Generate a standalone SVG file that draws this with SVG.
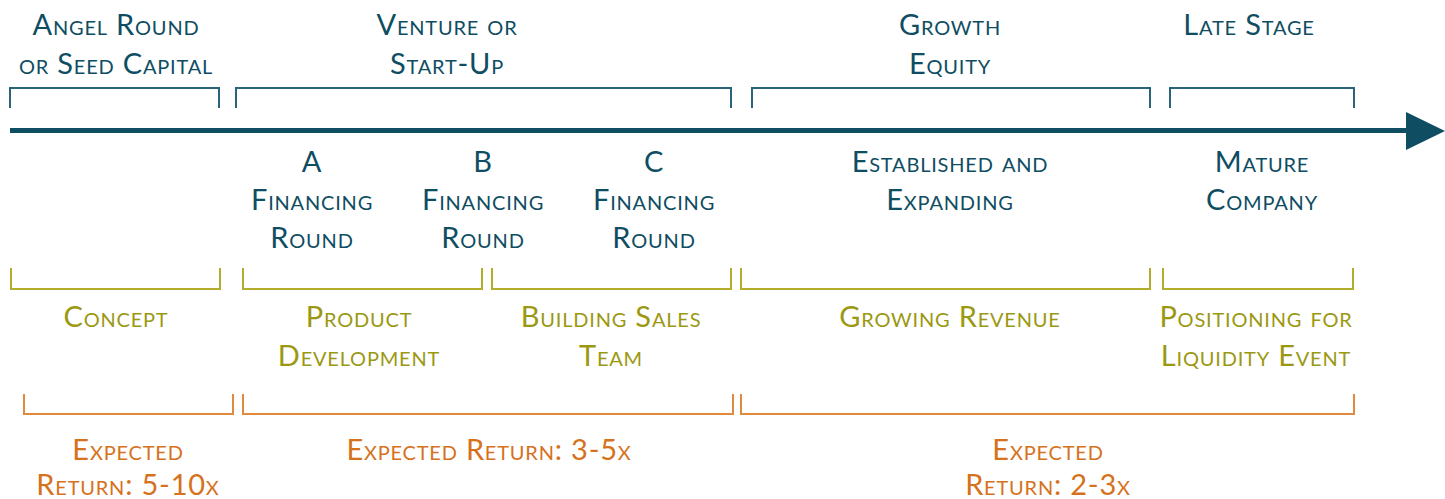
<svg xmlns="http://www.w3.org/2000/svg" width="1445" height="499" viewBox="0 0 1445 499">
  <style>
    text { font-family: Lato, "Liberation Sans", sans-serif; font-size: 29px; letter-spacing: 0.8px; font-variant: small-caps; text-anchor: middle; }
    .stage { fill: #0e4d62; }
    .phase { fill: #9b9812; }
    .ret { fill: #d6711c; }
    .br { fill: none; stroke-width: 2; }
    .br-stage { stroke: #2a6478; }
    .br-phase { stroke: #b3ad2c; }
    .br-ret { stroke: #e08a3e; }
  </style>

  <!-- timeline axis -->
  <g id="connectors">
    <line x1="10" y1="130.5" x2="1410" y2="130.5" stroke="#0e4d62" stroke-width="5"/>
    <polygon points="1406,112 1445,131 1406,150" fill="#0e4d62"/>
  </g>

  <!-- funding stages (above axis) -->
  <g id="stage-angel">
    <text class="stage" x="116" y="35">Angel Round</text>
    <text class="stage" x="116" y="74">or Seed Capital</text>
    <path class="br br-stage" d="M10,108 V88 H219 V108"/>
  </g>
  <g id="stage-venture">
    <text class="stage" x="447" y="35">Venture or</text>
    <text class="stage" x="447" y="74">Start-Up</text>
    <path class="br br-stage" d="M236,108 V88 H731 V108"/>
  </g>
  <g id="stage-growth">
    <text class="stage" x="950" y="35">Growth</text>
    <text class="stage" x="950" y="74">Equity</text>
    <path class="br br-stage" d="M752,108 V88 H1150 V108"/>
  </g>
  <g id="stage-late">
    <text class="stage" x="1249" y="35">Late Stage</text>
    <path class="br br-stage" d="M1170,108 V88 H1354 V108"/>
  </g>

  <!-- financing rounds (below axis) -->
  <g id="round-a">
    <text class="stage" x="312" y="172">A</text>
    <text class="stage" x="312" y="210">Financing</text>
    <text class="stage" x="312" y="248">Round</text>
  </g>
  <g id="round-b">
    <text class="stage" x="483" y="172">B</text>
    <text class="stage" x="483" y="210">Financing</text>
    <text class="stage" x="483" y="248">Round</text>
  </g>
  <g id="round-c">
    <text class="stage" x="654" y="172">C</text>
    <text class="stage" x="654" y="210">Financing</text>
    <text class="stage" x="654" y="248">Round</text>
  </g>
  <g id="round-established">
    <text class="stage" x="950" y="172">Established and</text>
    <text class="stage" x="950" y="210">Expanding</text>
  </g>
  <g id="round-mature">
    <text class="stage" x="1262" y="172">Mature</text>
    <text class="stage" x="1262" y="210">Company</text>
  </g>

  <!-- company phases -->
  <g id="phase-concept">
    <path class="br br-phase" d="M11,268 V289 H220 V268"/>
    <text class="phase" x="116" y="327">Concept</text>
  </g>
  <g id="phase-product">
    <path class="br br-phase" d="M243,268 V289 H482 V268"/>
    <text class="phase" x="359" y="327">Product</text>
    <text class="phase" x="359" y="366">Development</text>
  </g>
  <g id="phase-sales">
    <path class="br br-phase" d="M492,268 V289 H731 V268"/>
    <text class="phase" x="611" y="327">Building Sales</text>
    <text class="phase" x="611" y="366">Team</text>
  </g>
  <g id="phase-revenue">
    <path class="br br-phase" d="M741,268 V289 H1150 V268"/>
    <text class="phase" x="950" y="327">Growing Revenue</text>
  </g>
  <g id="phase-liquidity">
    <path class="br br-phase" d="M1163,268 V289 H1353 V268"/>
    <text class="phase" x="1256" y="327">Positioning for</text>
    <text class="phase" x="1256" y="366">Liquidity Event</text>
  </g>

  <!-- expected returns -->
  <g id="return-seed">
    <path class="br br-ret" d="M24,394 V414 H233 V394"/>
    <text class="ret" x="128" y="460">Expected</text>
    <text class="ret" x="128" y="495">Return: 5-10x</text>
  </g>
  <g id="return-venture">
    <path class="br br-ret" d="M243,394 V414 H733 V394"/>
    <text class="ret" x="489" y="460">Expected Return: 3-5x</text>
  </g>
  <g id="return-growth">
    <path class="br br-ret" d="M741,394 V414 H1354 V394"/>
    <text class="ret" x="1048" y="460">Expected</text>
    <text class="ret" x="1048" y="495">Return: 2-3x</text>
  </g>
</svg>
